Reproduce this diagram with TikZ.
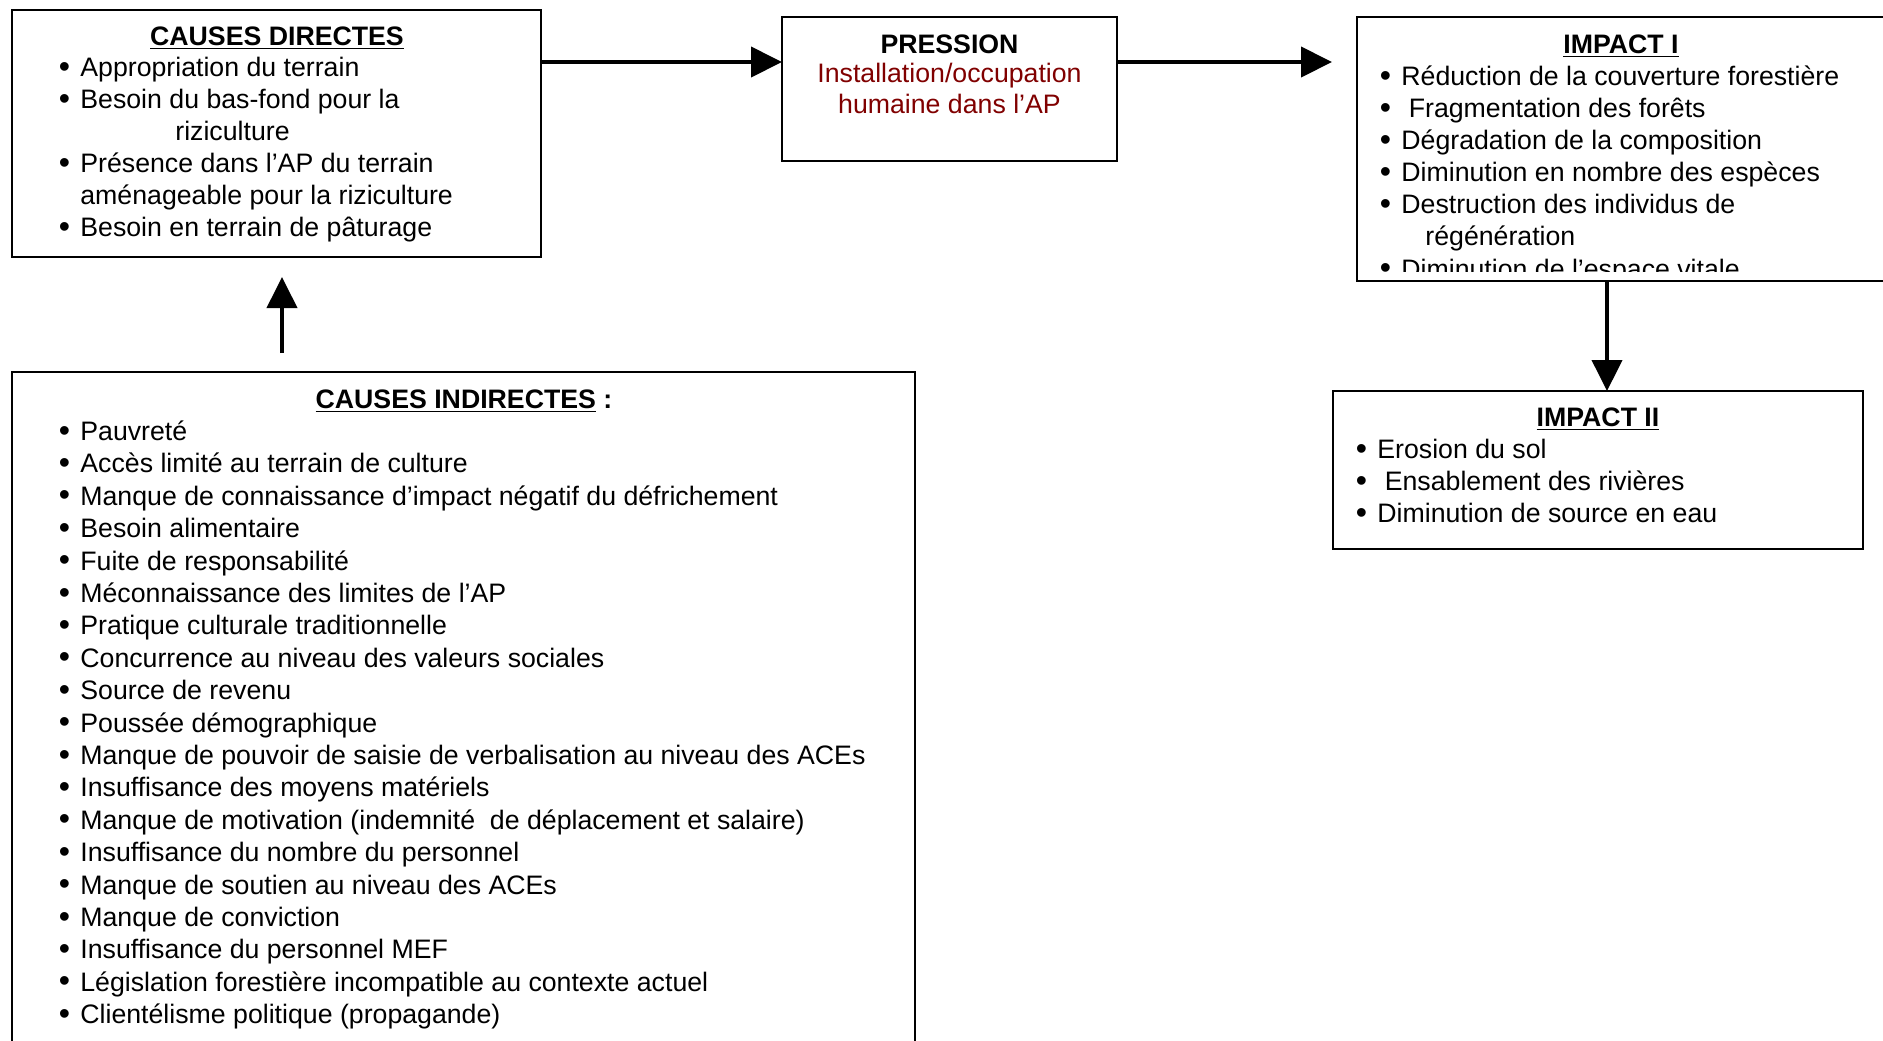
\documentclass[tikz,border=0pt]{standalone}
\usepackage{fontspec}
\setmainfont{Liberation Sans}
\usetikzlibrary{arrows.meta}
\definecolor{pcol}{RGB}{128,0,0}
\newcommand\fs{\fontsize{13.35pt}{16pt}\selectfont}
\newcommand\bul{\llap{\raisebox{-0.25pt}{\scalebox{1.2}{•}}\hspace{5.2pt}}}
\tikzset{
 box/.style={draw, line width=0.8pt, anchor=north west, inner sep=0pt, outer sep=0pt},
 conn/.style={line width=2pt, -{Triangle[length=15.5pt,width=15pt]}},
 txt/.style={anchor=base west, inner sep=0pt, font=\fs},
 ttl/.style={anchor=base, inner sep=0pt, font=\fs\bfseries},
}
\begin{document}
\begin{tikzpicture}[x=0.5pt,y=-0.5pt]
\path[clip] (0,0) rectangle (1883,1040);
\path[use as bounding box] (0,0) rectangle (1883,1040);

% boxes
\node[box, minimum width=264.5pt, minimum height=123.5pt] (cd) at (12,10) {};
\node[box, minimum width=167.5pt, minimum height=72pt] (pr) at (782,17) {};
\node[box, minimum width=264pt, minimum height=132pt] (im1) at (1357,17) {};
\node[box, minimum width=265pt, minimum height=79pt] (im2) at (1333,391) {};
\node[box, minimum width=451.5pt, minimum height=344pt] (ci) at (12,372) {};

% CAUSES DIRECTES
\node[ttl] (cdt) at (277,45) {\underline{CAUSES DIRECTES}};
\node[txt] (cd1) at (80,76.5) {\bul Appropriation du terrain};
\node[txt] (cd2) at (80,108.5) {\bul Besoin du bas-fond pour la};
\node[txt] (cd2b) at (175,140.5) {riziculture};
\node[txt] (cd3) at (80,172.5) {\bul Présence dans l’AP du terrain};
\node[txt] (cd3b) at (80,204.5) {aménageable pour la riziculture};
\node[txt] (cd4) at (80,236.5) {\bul Besoin en terrain de pâturage};

% PRESSION
\node[ttl] (prt) at (949.5,53) {PRESSION};
\node[anchor=base, inner sep=0pt, font=\fs, text=pcol] (pr1) at (949.5,82) {Installation/occupation};
\node[anchor=base, inner sep=0pt, font=\fs, text=pcol] (pr2) at (949.5,113) {humaine dans l’AP};

% IMPACT I
\node[ttl] (i1t) at (1621,53) {\underline{IMPACT I}};
\begin{scope}
\clip (1357,17) rectangle (1885,271);
\node[txt] (i11) at (1401,85.5) {\bul Réduction de la couverture forestière};
\node[txt] (i12) at (1401,117.5) {\bul\hspace{3.7pt}Fragmentation des forêts};
\node[txt] (i13) at (1401,149.5) {\bul Dégradation de la composition};
\node[txt] (i14) at (1401,181.5) {\bul Diminution en nombre des espèces};
\node[txt] (i15) at (1401,213.5) {\bul Destruction des individus de};
\node[txt] (i15b) at (1425,245.5) {régénération};
\node[txt] (i16) at (1401,278) {\bul Diminution de l’espace vitale};
\end{scope}

% IMPACT II
\node[ttl] (i2t) at (1598,426) {\underline{IMPACT II}};
\node[txt] (i21) at (1377,458.5) {\bul Erosion du sol};
\node[txt] (i22) at (1377,490.5) {\bul\hspace{3.7pt}Ensablement des rivières};
\node[txt] (i23) at (1377,522.5) {\bul Diminution de source en eau};

% CAUSES INDIRECTES
\node[ttl] (cit) at (464,408) {\underline{CAUSES INDIRECTES} :};
\foreach \t [count=\i from 0] in {
 Pauvreté,
 Accès limité au terrain de culture,
 Manque de connaissance d’impact négatif du défrichement,
 Besoin alimentaire,
 Fuite de responsabilité,
 Méconnaissance des limites de l’AP,
 Pratique culturale traditionnelle,
 Concurrence au niveau des valeurs sociales,
 Source de revenu,
 Poussée démographique,
 Manque de pouvoir de saisie de verbalisation au niveau des ACEs,
 Insuffisance des moyens matériels,
 {Manque de motivation (indemnité\ \ de déplacement et salaire)},
 Insuffisance du nombre du personnel,
 Manque de soutien au niveau des ACEs,
 Manque de conviction,
 Insuffisance du personnel MEF,
 Législation forestière incompatible au contexte actuel,
 Clientélisme politique (propagande)}
 { \node[txt] (ci\i) at (80,{440.5+32.4*\i}) {\bul \t}; }

% connectors
\draw[conn] ([yshift=-26pt]cd.north east) -- ([yshift=-22.5pt]pr.north west);
\draw[conn] ([yshift=-22.5pt]pr.north east) -- ([xshift=-12.5pt,yshift=-22.5pt]im1.north west);
\draw[conn] ([xshift=135pt,yshift=9.5pt]ci.north west) -- ([xshift=135pt,yshift=-10pt]cd.south west);
\draw[conn] ([xshift=125pt]im1.south west) -- ([xshift=137pt]im2.north west);
\end{tikzpicture}
\end{document}
